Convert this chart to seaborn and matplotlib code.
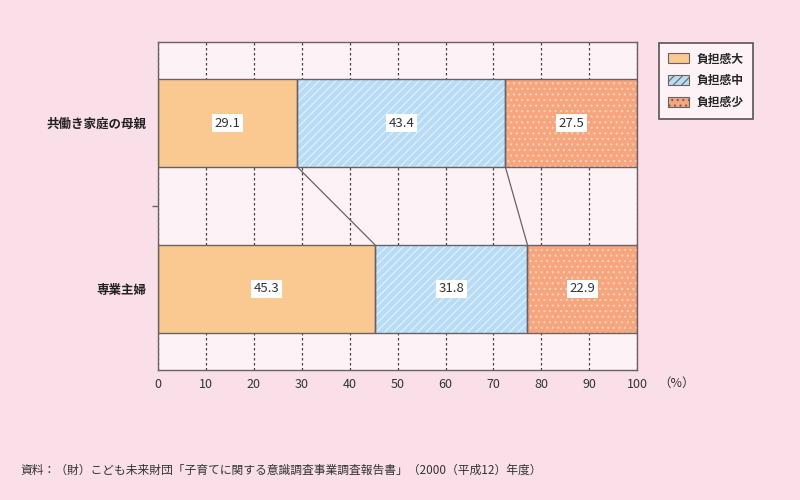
import matplotlib
matplotlib.use("Agg")
import matplotlib.pyplot as plt
from matplotlib.patches import Patch
import pandas as pd
import seaborn as sns

# データ
groups = ["共働き家庭の母親", "専業主婦"]
burden_high = [29.1, 45.3]
burden_mid = [43.4, 31.8]
burden_low = [27.5, 22.9]
series_names = ["負担感大", "負担感中", "負担感少"]
x_ticks = [0, 10, 20, 30, 40, 50, 60, 70, 80, 90, 100]
source = "資料：（財）こども未来財団「子育てに関する意識調査事業調査報告書」（2000（平成12）年度）"

BG = "#fadfe9"
AX_BG = "#fdf3f6"
EDGE = "#6a6262"
colors = ["#fac891", "#b8dcf5", "#f7a57d"]
hatches = [None, "////", "..."]
hatch_colors = [colors[0], "#e4f2fc", "#fcd3bf"]
BAR_H = 0.53

sns.set_theme(style="white")
plt.rcParams["font.family"] = ["Noto Sans CJK JP", "DejaVu Sans"]
plt.rcParams["hatch.linewidth"] = 0.8

df = pd.DataFrame({"group": groups, "high": burden_high, "mid": burden_mid, "low": burden_low})
df["c1"] = df["high"]
df["c2"] = df["c1"] + df["mid"]
df["c3"] = df["c2"] + df["low"]

fig = plt.figure(figsize=(8, 5), dpi=100, facecolor=BG)
ax = fig.add_axes([0.1975, 0.26, 0.599, 0.656])
ax.set_facecolor(AX_BG)

# 積み上げ（累積値を後ろから描く）
for col, color, hatch, hc in [("c3", colors[2], hatches[2], hatch_colors[2]),
                              ("c2", colors[1], hatches[1], hatch_colors[1]),
                              ("c1", colors[0], hatches[0], hatch_colors[0])]:
    sns.barplot(data=df, x=col, y="group", orient="h", width=BAR_H, color=color,
                saturation=1, errorbar=None, hatch=hatch, edgecolor=hc,
                linewidth=0, ax=ax, zorder=2)

# 枠線
ypos = list(range(len(groups)))
lefts = [[0, 0], list(df["c1"]), list(df["c2"])]
for vals, left in zip([burden_high, burden_mid, burden_low], lefts):
    ax.barh(ypos, vals, left=left, height=BAR_H, fill=False,
            edgecolor=EDGE, linewidth=1.0, zorder=3)

# 値ラベル
for vals, left in zip([burden_high, burden_mid, burden_low], lefts):
    for i, (v, l) in enumerate(zip(vals, left)):
        ax.text(l + v / 2, i, f"{v}", ha="center", va="center", fontsize=9.5,
                color="#333333", zorder=5,
                bbox=dict(boxstyle="square,pad=0.2", fc="white", ec="none"))

# 区分線
for c in ["c1", "c2"]:
    ax.plot([df[c][0], df[c][1]], [0 + BAR_H / 2, 1 - BAR_H / 2],
            color=EDGE, linewidth=0.9, zorder=4)

ax.set_xlim(0, 100)
ax.set_ylim(1.49, -0.49)
ax.set_xticks(x_ticks)
ax.set_xticklabels([str(t) for t in x_ticks], fontsize=9, color="#333333")
ax.set_yticks(ypos)
ax.set_yticklabels(groups, fontsize=9, color="#222222", fontweight="bold")
ax.set_yticks([0.5], minor=True)
ax.tick_params(axis="y", which="major", left=True, length=0, pad=8)
ax.tick_params(axis="y", which="minor", left=True, length=4, color=EDGE, width=1)
ax.tick_params(axis="x", length=0, pad=6)
ax.set_xlabel("")
ax.set_ylabel("")

ax.xaxis.grid(True, linestyle=(0, (2, 2)), color="#444444", linewidth=0.9)
ax.set_axisbelow(True)
for s in ax.spines.values():
    s.set_color(EDGE)
    s.set_linewidth(1.0)

fig.text(0.823, 0.234, "（%）", fontsize=9, color="#333333", va="center")

handles = [Patch(facecolor=c, edgecolor=EDGE, hatch=h, linewidth=0.8)
           for c, h in zip(colors, hatches)]
leg = fig.legend(handles, series_names, loc="upper left",
                 bbox_to_anchor=(0.816, 0.926), fontsize=8.5, frameon=True,
                 fancybox=False, edgecolor="#555555", facecolor=AX_BG,
                 framealpha=1, handlelength=1.8, handleheight=0.9,
                 handletextpad=0.6, borderpad=0.8, labelspacing=0.75,
                 prop={"weight": "bold", "size": 8.5})
leg.get_frame().set_linewidth(1.2)

fig.text(0.025, 0.06, source, fontsize=8.5, color="#333333", va="center")

fig.savefig("out.png", dpi=100, facecolor=BG)
